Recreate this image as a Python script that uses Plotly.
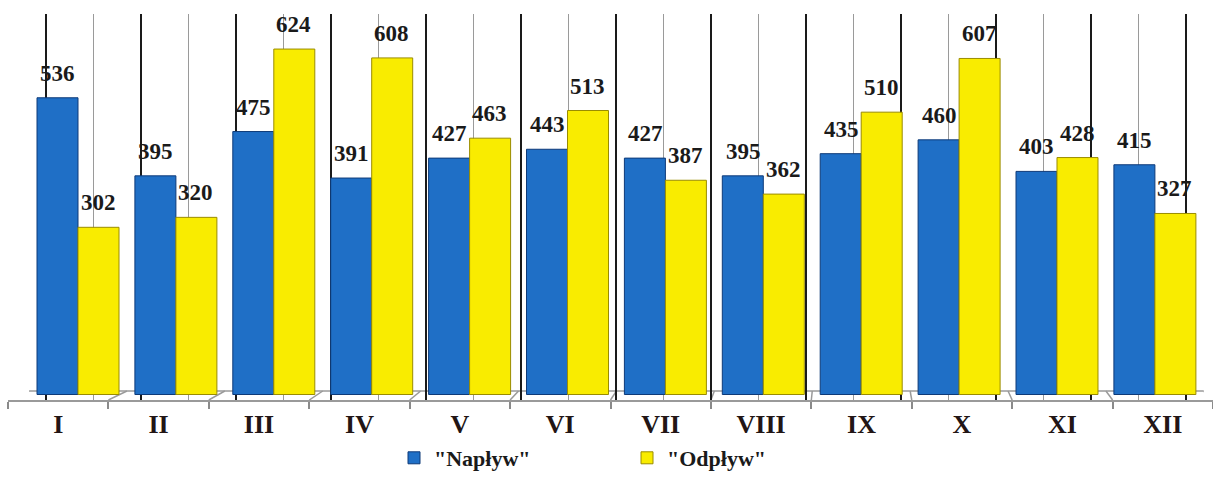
import plotly.graph_objects as go

months = ["I", "II", "III", "IV", "V", "VI", "VII", "VIII", "IX", "X", "XI", "XII"]
naplyw = [536, 395, 475, 391, 427, 443, 427, 395, 435, 460, 403, 415]
odplyw = [302, 320, 624, 608, 463, 513, 387, 362, 510, 607, 428, 327]
series_names = ['"Napływ"', '"Odpływ"']

BLUE = "#1f6fc6"
YELLOW = "#f9ec00"
FONT = "Liberation Serif"

# layout geometry (pixels)
W, H = 1213, 482
ML, MR, MT, MB = 8, 0, 14, 82
PW = W - ML - MR
bar_left, bar_step = 29.05, 97.9          # bar-axis left edge, category width
grid_left, grid_step = 46.0, 95.0         # back wall grid
front_step = PW / 12.0                    # front floor category width
k = 0.5536                                # px per unit
zero_px = 394.5
y_lo = -(H - MB - zero_px) / k
y_hi = (zero_px - MT) / k

def px_to_bar(p):
    return (p - bar_left) / bar_step - 0.5

bar_dom = [(bar_left - ML) / PW, (bar_left + 12 * bar_step - ML) / PW]
g_r0 = -(grid_left - bar_left) / grid_step
g_r1 = g_r0 + 12 * bar_step / grid_step

fig = go.Figure()
fig.add_trace(go.Bar(x=months, y=naplyw, name=series_names[0], hoverinfo="skip",
                     marker=dict(color=BLUE, line=dict(color="#0e3a78", width=1))))
fig.add_trace(go.Bar(x=months, y=odplyw, name=series_names[1], hoverinfo="skip",
                     marker=dict(color=YELLOW, line=dict(color="#9a8c00", width=1))))
# helper traces so the label axis and the back-wall grid axis are drawn
fig.add_trace(go.Scatter(x=list(range(12)), y=[None] * 12, xaxis="x2", yaxis="y",
                         showlegend=False, hoverinfo="skip", mode="markers"))
fig.add_trace(go.Scatter(x=list(range(13)), y=[None] * 13, xaxis="x3", yaxis="y",
                         showlegend=False, hoverinfo="skip", mode="markers"))

ann = []
half = bar_step * 0.41 / 2
for i, m in enumerate(months):
    for vals, sh in ((naplyw, -half), (odplyw, half)):
        ann.append(dict(x=m, y=vals[i], xref="x", yref="y", text=str(vals[i]),
                        showarrow=False, yanchor="bottom", xshift=sh, yshift=10,
                        font=dict(family=FONT, size=23, color="#1a1a1a", weight="bold")))

# floor (decoration)
y_front, y_back = y_lo, (zero_px - 391) / k
fronts = [px_to_bar(ML + front_step * i) for i in range(13)]
backs = [i - 0.5 for i in range(13)]
shapes = [dict(type="path", xref="x", yref="y", layer="below",
               path=f"M{fronts[0]},{y_front} L{fronts[12]},{y_front} L{backs[12]},{y_back} L{backs[0]},{y_back} Z",
               fillcolor="white", line=dict(width=0)),
          dict(type="line", xref="x", yref="y", layer="below",
               x0=backs[0], x1=backs[12], y0=y_back, y1=y_back,
               line=dict(color="#9a9a9a", width=1.5))]
for f, b in zip(fronts, backs):
    shapes.append(dict(type="line", xref="x", yref="y", layer="below",
                       x0=f, x1=b, y0=y_front, y1=y_back,
                       line=dict(color="#9a9a9a", width=1.5)))

fig.update_layout(
    width=W, height=H,
    margin=dict(l=ML, r=MR, t=MT, b=MB),
    paper_bgcolor="white", plot_bgcolor="rgba(0,0,0,0)",
    barmode="group", bargap=1 - 82 / bar_step, bargroupgap=0,
    showlegend=True,
    legend=dict(orientation="h", x=(394 - ML) / PW, xanchor="left",
                y=-(458 - (H - MB)) / (H - MT - MB), yanchor="middle",
                entrywidth=188, entrywidthmode="pixels",
                font=dict(family=FONT, size=22, color="#1a1a1a", weight="bold")),
    xaxis=dict(domain=bar_dom, range=[-0.5, 11.5], autorange=False, showticklabels=False,
               showgrid=False, ticks="", showline=False, zeroline=False),
    xaxis2=dict(domain=[0, 1], anchor="y", range=[-0.5, 11.5], autorange=False,
                tickmode="array", tickvals=list(range(12)), ticktext=months, ticks="",
                showgrid=False, zeroline=False, showline=True, linecolor="#9a9a9a", linewidth=2,
                tickfont=dict(family=FONT, size=26, color="#221515", weight="bold"),
                minor=dict(tickmode="array", tickvals=[i - 0.5 for i in range(13)],
                           ticks="outside", ticklen=7, tickcolor="#8a8a8a", tickwidth=1.5,
                           showgrid=False)),
    xaxis3=dict(overlaying="x", anchor="y", range=[g_r0, g_r1], autorange=False,
                showticklabels=False, ticks="", showline=False, zeroline=False,
                tickmode="array", tickvals=list(range(13)), showgrid=True,
                gridcolor="#1a1a1a", gridwidth=1.5,
                minor=dict(tickmode="array", tickvals=[i + 0.5 for i in range(12)],
                           showgrid=True, gridcolor="#9a9a9a", gridwidth=1)),
    yaxis=dict(range=[y_lo, y_hi], autorange=False, showticklabels=False, showgrid=False,
               zeroline=False, showline=False, ticks=""),
    annotations=ann,
    shapes=shapes,
)

fig.write_html("out.html", config={"displayModeBar": False},
               post_script="document.body.style.margin='0';")
